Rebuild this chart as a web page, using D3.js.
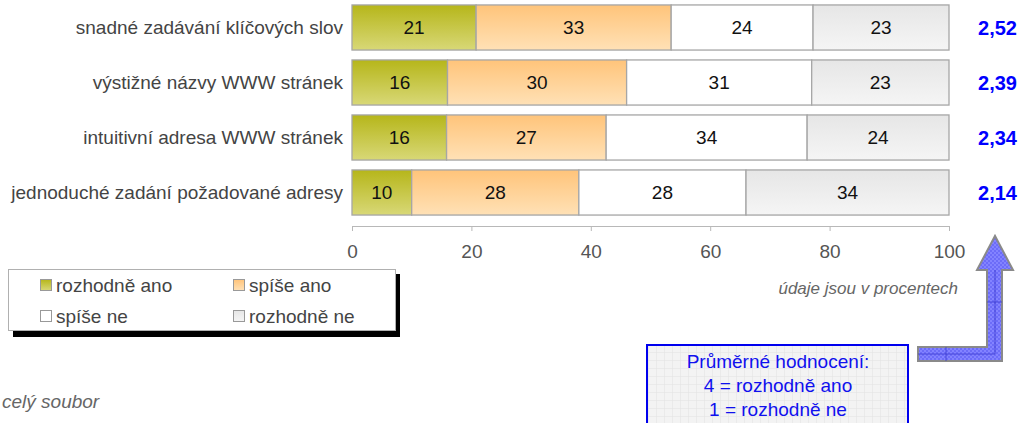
<!DOCTYPE html>
<html>
<head>
<meta charset="utf-8">
<script src="https://cdn.jsdelivr.net/npm/d3@7"></script>
<style>
  body { margin: 0; background: #fff; }
  svg { display: block; font-family: "Liberation Sans", Arial, sans-serif; }
</style>
</head>
<body>
<div id="chart"></div>
<script>
// Data
var categories = ['snadné zadávání klíčových slov', 'výstižné názvy WWW stránek',
                  'intuitivní adresa WWW stránek', 'jednoduché zadání požadované adresy'];
var rozhodneAno = [21, 16, 16, 10];
var spiseAno = [33, 30, 27, 28];
var spiseNe = [24, 31, 34, 28];
var rozhodneNe = [23, 23, 24, 34];
var averages = ['2,52', '2,39', '2,34', '2,14'];
var seriesNames = ['rozhodně ano', 'spíše ano', 'spíše ne', 'rozhodně ne'];
var xTicks = [0, 20, 40, 60, 80, 100];

var W = 1019, H = 423;
var svg = d3.select('#chart').append('svg').attr('width', W).attr('height', H);
var defs = svg.append('defs');

// gradients for the bar fills
var grads = [['gGreen', '#b6b61a', '#d8d877'], ['gOrange', '#ffc47a', '#ffe1b6'],
             ['gWhite', '#ffffff', '#ffffff'], ['gGray', '#e6e6e6', '#f5f5f5']];
grads.forEach(function(g){
    var lg = defs.append('linearGradient').attr('id', g[0])
        .attr('x1', 0).attr('y1', 0).attr('x2', 0).attr('y2', 1);
    lg.append('stop').attr('offset', '0%').attr('stop-color', g[1]);
    lg.append('stop').attr('offset', '100%').attr('stop-color', g[2]);
});
var fills = grads.map(function(g){ return 'url(#' + g[0] + ')'; });

// checker pattern for the arrow
var pat = defs.append('pattern').attr('id', 'checker').attr('patternUnits', 'userSpaceOnUse')
    .attr('width', 4).attr('height', 4);
pat.append('rect').attr('width', 4).attr('height', 4).attr('fill', '#8383ff');
pat.append('rect').attr('width', 2).attr('height', 2).attr('fill', '#6c6cf8');
pat.append('rect').attr('x', 2).attr('y', 2).attr('width', 2).attr('height', 2).attr('fill', '#6c6cf8');

// grid pattern for the note box
var grid = defs.append('pattern').attr('id', 'grid').attr('patternUnits', 'userSpaceOnUse')
    .attr('width', 8).attr('height', 8);
grid.append('rect').attr('width', 8).attr('height', 8).attr('fill', '#f3f3f3');
grid.append('path').attr('d', 'M8 0 L0 0 L0 8').attr('fill', 'none')
    .attr('stroke', '#e2e2e2').attr('stroke-width', 1);

// scales
var x = d3.scaleLinear().domain([0, 100]).range([352, 949]);
var y = d3.scaleBand().domain(categories).range([0, 220]).paddingInner(0.18).paddingOuter(0.09);

// stack the rows
var rows = categories.map(function(c, i){
    var vals = [rozhodneAno[i], spiseAno[i], spiseNe[i], rozhodneNe[i]];
    var total = d3.sum(vals);
    var acc = 0;
    return vals.map(function(v, k){
        var seg = {cat: c, k: k, v: v, x0: acc / total * 100, x1: (acc + v) / total * 100};
        acc += v;
        return seg;
    });
});

var barG = svg.append('g');
rows.forEach(function(segs){
    var g = barG.append('g');
    g.selectAll('rect').data(segs).enter().append('rect')
        .attr('x', function(d){ return x(d.x0); })
        .attr('y', function(d){ return y(d.cat); })
        .attr('width', function(d){ return x(d.x1) - x(d.x0); })
        .attr('height', y.bandwidth())
        .attr('fill', function(d){ return fills[d.k]; })
        .attr('stroke', '#a6a6a6')
        .attr('stroke-width', 1.3);
    g.selectAll('text').data(segs).enter().append('text')
        .attr('x', function(d){ return (x(d.x0) + x(d.x1)) / 2; })
        .attr('y', function(d){ return y(d.cat) + y.bandwidth() / 2; })
        .attr('dy', '0.36em')
        .attr('text-anchor', 'middle')
        .attr('font-size', '19px')
        .attr('fill', '#111')
        .text(function(d){ return d.v; });
});

// category labels
svg.append('g').selectAll('text').data(categories).enter().append('text')
    .attr('x', 343)
    .attr('y', function(d){ return y(d) + y.bandwidth() / 2; })
    .attr('dy', '0.36em')
    .attr('text-anchor', 'end')
    .attr('font-size', '19px')
    .attr('fill', '#444')
    .text(function(d){ return d; });

// averages
svg.append('g').selectAll('text').data(averages).enter().append('text')
    .attr('x', 1017)
    .attr('y', function(d, i){ return y(categories[i]) + y.bandwidth() / 2; })
    .attr('dy', '0.36em')
    .attr('text-anchor', 'end')
    .attr('font-size', '20px')
    .attr('font-weight', 'bold')
    .attr('fill', '#0000ff')
    .text(function(d){ return d; });

// x axis
var xAxis = svg.append('g')
    .attr('transform', 'translate(0, 226)')
    .call(d3.axisBottom(x).tickValues(xTicks).tickSize(5).tickSizeOuter(0).tickPadding(14));
xAxis.select('.domain').attr('stroke', '#b8b8b8');
xAxis.selectAll('.tick line').attr('stroke', '#b8b8b8');
xAxis.selectAll('.tick text').attr('font-size', '19px').attr('fill', '#555')
    .attr('font-family', '"Liberation Sans", Arial, sans-serif');

// legend
var leg = svg.append('g');
leg.append('rect').attr('x', 13).attr('y', 274).attr('width', 387).attr('height', 63).attr('fill', '#000');
leg.append('rect').attr('x', 8.5).attr('y', 269.5).attr('width', 387).attr('height', 61)
    .attr('fill', '#fff').attr('stroke', '#b0b0b0');
var legPos = [[40, 285], [233, 285], [40, 316], [233, 316]];
seriesNames.forEach(function(n, i){
    leg.append('rect').attr('x', legPos[i][0] + 0.5).attr('y', legPos[i][1] - 5.5)
        .attr('width', 11).attr('height', 11)
        .attr('fill', fills[i]).attr('stroke', '#999');
    leg.append('text').attr('x', legPos[i][0] + 16).attr('y', legPos[i][1])
        .attr('dy', '0.36em').attr('font-size', '19px').attr('fill', '#444').text(n);
});

// notes
svg.append('text').attr('x', 958).attr('y', 294).attr('text-anchor', 'end')
    .attr('font-size', '17px').attr('font-style', 'italic').attr('fill', '#666')
    .text('údaje jsou v procentech');
svg.append('text').attr('x', 2).attr('y', 408)
    .attr('font-size', '19px').attr('font-style', 'italic').attr('fill', '#666')
    .text('celý soubor');

// note box
svg.append('rect').attr('x', 647).attr('y', 345).attr('width', 261).attr('height', 85)
    .attr('fill', 'url(#grid)').attr('stroke', '#0000ee').attr('stroke-width', 2);
var boxLines = ['Průměrné hodnocení:', '4 = rozhodně ano', '1 = rozhodně ne'];
svg.append('g').selectAll('text').data(boxLines).enter().append('text')
    .attr('x', 778).attr('y', function(d, i){ return 361 + i * 24; })
    .attr('dy', '0.36em').attr('text-anchor', 'middle')
    .attr('font-size', '19px').attr('fill', '#1010ee')
    .text(function(d){ return d; });

// arrow
var arrowPath = 'M918,347 L987,347 L987,270 L977,270 L995,236 L1013,270 L1002,270 L1002,361 L918,361 Z';
svg.append('path').attr('d', arrowPath).attr('fill', 'url(#checker)')
    .attr('stroke', '#8a8a8a').attr('stroke-width', 2).attr('stroke-linejoin', 'miter');
svg.append('path').attr('d', 'M995,270 L995,354 L918,354 M987,302 L1002,302 M946,347 L946,361')
    .attr('fill', 'none').attr('stroke', '#3a3ad0').attr('stroke-width', 0.8);
</script>
</body>
</html>
